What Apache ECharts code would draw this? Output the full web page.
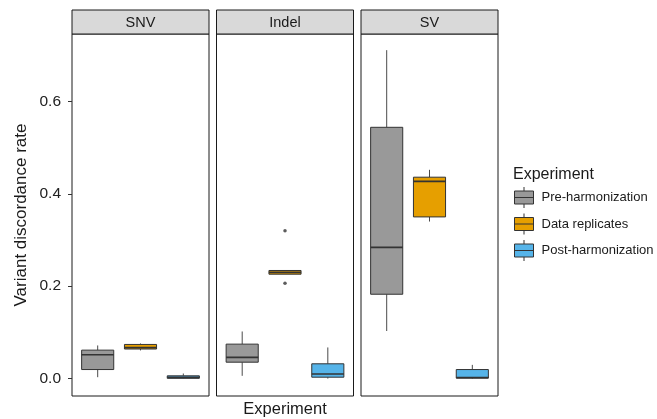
<!DOCTYPE html>
<html>
<head>
<meta charset="utf-8">
<script src="https://cdn.jsdelivr.net/npm/echarts@6/dist/echarts.min.js"></script>
<style>html,body{margin:0;padding:0;background:#fff;}#chart{width:657px;height:419px;}</style>
</head>
<body>
<div id="chart"></div>
<script>
// ---- data ----
const panels = ['SNV', 'Indel', 'SV'];
const experiments = ['Pre-harmonization', 'Data replicates', 'Post-harmonization'];
const yTicks = [0.0, 0.2, 0.4, 0.6];
// five-number summaries per panel: [lower whisker, Q1, median, Q3, upper whisker]
const preHarmonization = [
  [0.003, 0.0196, 0.0515, 0.0616, 0.0717],
  [0.006, 0.0355, 0.046, 0.0746, 0.102],
  [0.103, 0.1826, 0.284, 0.544, 0.711]
];
const dataReplicates = [
  [0.061, 0.064, 0.067, 0.0739, 0.076],
  [0.226, 0.226, 0.230, 0.234, 0.234],
  [0.340, 0.350, 0.427, 0.436, 0.452]
];
const postHarmonization = [
  [0.0, 0.0005, 0.003, 0.006, 0.011],
  [0.0, 0.003, 0.010, 0.032, 0.0674],
  [0.0, 0.001, 0.002, 0.0196, 0.0297]
];
// outliers: [panel, experiment, value]
const outliers = [
  ['Indel', 'Data replicates', 0.320],
  ['Indel', 'Data replicates', 0.2065]
];

// ---- layout / style ----
const colors = ['#999999', '#E69F00', '#56B4E9'];
const stats = [preHarmonization, dataReplicates, postHarmonization];
const gridLefts = [72, 216.5, 361];
const gridWidth = 137, gridTop = 34, gridHeight = 362, stripTop = 10;
const yMin = -0.0377, yMax = 0.746;
const FONT = 'Liberation Sans, Arial, Helvetica, sans-serif';

const chart = echarts.init(document.getElementById('chart'), null, {renderer: 'canvas'});

function renderBox(params, api) {
  const x = api.value(0);
  const lo = api.coord([x, api.value(1)]);
  const q1 = api.coord([x, api.value(2)]);
  const med = api.coord([x, api.value(3)]);
  const q3 = api.coord([x, api.value(4)]);
  const hi = api.coord([x, api.value(5)]);
  const w = api.size([0.75, 0])[0];
  const color = api.visual('color');
  return {
    type: 'group',
    children: [
      {type: 'line', shape: {x1: hi[0], y1: hi[1], x2: q3[0], y2: q3[1]}, style: {stroke: '#4a4a4a', lineWidth: 1}},
      {type: 'line', shape: {x1: q1[0], y1: q1[1], x2: lo[0], y2: lo[1]}, style: {stroke: '#4a4a4a', lineWidth: 1}},
      {type: 'rect', shape: {x: q3[0] - w / 2, y: q3[1], width: w, height: Math.max(q1[1] - q3[1], 0.5)},
        style: {fill: color, stroke: '#333333', lineWidth: 1}},
      {type: 'line', shape: {x1: med[0] - w / 2, y1: med[1], x2: med[0] + w / 2, y2: med[1]},
        style: {stroke: '#333333', lineWidth: 1.6}}
    ]
  };
}

const grids = [], xAxes = [], yAxes = [], series = [], graphics = [];
panels.forEach((p, pi) => {
  grids.push({left: gridLefts[pi], top: gridTop, width: gridWidth, height: gridHeight,
    outerBoundsMode: 'none', containLabel: false,
    show: true, borderColor: '#1a1a1a', borderWidth: 1, backgroundColor: '#fff'});
  xAxes.push({type: 'value', gridIndex: pi, min: 0.4, max: 3.6,
    show: pi === 1,
    name: pi === 1 ? 'Experiment' : '', nameLocation: 'middle', nameGap: 5,
    nameTextStyle: {fontFamily: FONT, fontSize: 16.5, color: '#1a1a1a', verticalAlign: 'top'},
    axisLine: {show: false}, axisTick: {show: false}, axisLabel: {show: false}, splitLine: {show: false}});
  yAxes.push({type: 'value', gridIndex: pi, min: yMin, max: yMax,
    show: pi === 0,
    name: pi === 0 ? 'Variant discordance rate' : '', nameLocation: 'middle', nameGap: 42,
    nameTextStyle: {fontFamily: FONT, fontSize: 17, color: '#1a1a1a'},
    axisLine: {show: false},
    axisTick: {show: true, length: 4, lineStyle: {color: '#333', width: 1}, customValues: yTicks},
    axisLabel: {show: true, margin: 11, customValues: yTicks, fontFamily: FONT, fontSize: 15.5, color: '#222',
      formatter: v => v.toFixed(1)},
    splitLine: {show: false}});
  experiments.forEach((e, ei) => {
    const s = stats[ei][pi];
    series.push({
      type: 'custom', name: e, xAxisIndex: pi, yAxisIndex: pi,
      itemStyle: {color: colors[ei]},
      renderItem: renderBox,
      encode: {x: 0, y: [1, 2, 3, 4, 5]},
      data: [[ei + 1, s[0], s[1], s[2], s[3], s[4]]],
      silent: true
    });
  });
  const outs = outliers.filter(o => o[0] === p).map(o => [experiments.indexOf(o[1]) + 1, o[2]]);
  if (outs.length) {
    series.push({type: 'scatter', xAxisIndex: pi, yAxisIndex: pi, symbolSize: 3.5,
      itemStyle: {color: '#333'}, data: outs, silent: true});
  }
  // strip header
  graphics.push({type: 'rect', shape: {x: gridLefts[pi], y: stripTop, width: gridWidth, height: gridTop - stripTop},
    style: {fill: '#D9D9D9', stroke: '#1a1a1a', lineWidth: 1}, z: 10});
  graphics.push({type: 'text', x: gridLefts[pi] + gridWidth / 2, y: (stripTop + gridTop) / 2 + 0.5,
    style: {text: p, fontFamily: FONT, fontSize: 14.5, fill: '#1a1a1a', align: 'center', verticalAlign: 'middle'}, z: 11});
});

const option = {
  backgroundColor: '#ffffff',
  animation: false,
  title: {text: 'Experiment', left: 513, top: 167, padding: 0,
    textStyle: {fontFamily: FONT, fontSize: 16, fontWeight: 'normal', color: '#1a1a1a'}},
  legend: {
    data: experiments, orient: 'vertical', left: 514, top: 186.5, padding: 0,
    itemWidth: 19, itemHeight: 21, itemGap: 4.5,
    icon: 'path://M0,4 L19,4 L19,17 L0,17 Z M0,10.5 L19,10.5 M9.5,0 L9.5,4 M9.5,17 L9.5,21',
    itemStyle: {borderColor: '#333333', borderWidth: 1},
    textStyle: {fontFamily: FONT, fontSize: 13, color: '#1a1a1a', padding: [0, 0, 0, 3]},
    selectedMode: false
  },
  grid: grids, xAxis: xAxes, yAxis: yAxes, series: series, graphic: graphics
};
chart.setOption(option);
</script>
</body>
</html>
